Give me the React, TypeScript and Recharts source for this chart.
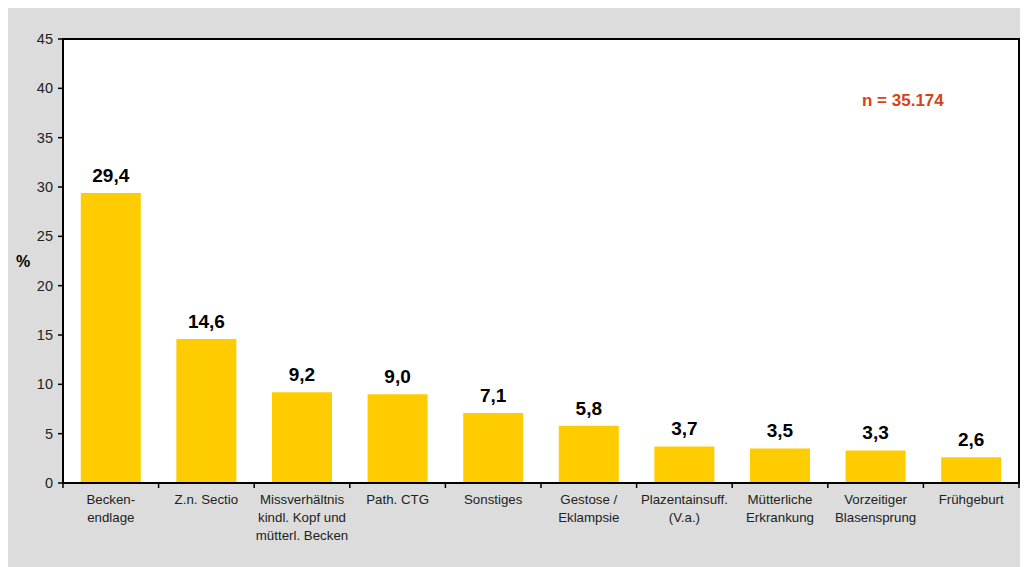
import React from 'react';
import { BarChart, Bar, XAxis, YAxis, CartesianGrid, LabelList, ReferenceArea } from 'recharts';

const CATEGORY_LINES: string[][] = [
  ['Becken-', 'endlage'],
  ['Z.n. Sectio'],
  ['Missverhältnis', 'kindl. Kopf und', 'mütterl. Becken'],
  ['Path. CTG'],
  ['Sonstiges'],
  ['Gestose /', 'Eklampsie'],
  ['Plazentainsuff.', '(V.a.)'],
  ['Mütterliche', 'Erkrankung'],
  ['Vorzeitiger', 'Blasensprung'],
  ['Frühgeburt'],
];
const VALUES: number[] = [29.4, 14.6, 9.2, 9.0, 7.1, 5.8, 3.7, 3.5, 3.3, 2.6];
const Y_TICKS: number[] = [0, 5, 10, 15, 20, 25, 30, 35, 40, 45];
const N_LABEL = 'n = 35.174';

const data = CATEGORY_LINES.map((lines, i) => ({ name: lines.join(' '), value: VALUES[i] }));

const W = 1020;
const H = 559;
const MARGIN = { top: 31, right: 9, left: 0, bottom: 0 };
const Y_AXIS_W = 55;
const X_AXIS_H = 84;
const PLOT_W = W - MARGIN.left - MARGIN.right - Y_AXIS_W;
const BAND = PLOT_W / data.length;
const FONT = '"Liberation Sans", Arial, sans-serif';

function CategoryTick(props: any) {
  const { x, y, index } = props;
  const lines = CATEGORY_LINES[index] || [];
  return (
    <g>
      <line x1={x - BAND / 2} x2={x - BAND / 2} y1={y} y2={y + 5} stroke="#000" strokeWidth={1.5} />
      {index === data.length - 1 && (
        <line x1={x + BAND / 2} x2={x + BAND / 2} y1={y} y2={y + 5} stroke="#000" strokeWidth={1.5} />
      )}
      {lines.map((l, i) => (
        <text key={i} x={x} y={y + 21 + i * 18} textAnchor="middle" fontSize={13.3} fill="#222" fontFamily={FONT}>
          {l}
        </text>
      ))}
    </g>
  );
}

const fmt = (v: any) => Number(v).toFixed(1).replace('.', ',');

export default function App() {
  return (
    <div style={{ position: 'relative', width: W, height: H, background: '#DCDCDC', fontFamily: FONT }}>
      <BarChart width={W} height={H} data={data} margin={MARGIN} barCategoryGap="18.6%">
        <CartesianGrid fill="#FFFFFF" horizontal={false} vertical={false} />
        <XAxis
          dataKey="name"
          height={X_AXIS_H}
          interval={0}
          tickSize={0}
          tickMargin={0}
          tickLine={false}
          axisLine={{ stroke: '#000', strokeWidth: 2 }}
          tick={<CategoryTick />}
        />
        <YAxis
          type="number"
          domain={[0, 45]}
          ticks={Y_TICKS}
          width={Y_AXIS_W}
          tickSize={5}
          tickMargin={5}
          interval={0}
          axisLine={{ stroke: '#000', strokeWidth: 2 }}
          tickLine={{ stroke: '#000', strokeWidth: 1.5 }}
          tick={{ fontSize: 14.5, fill: '#222', fontFamily: FONT }}
          label={{ value: '%', position: 'insideLeft', offset: 8, style: { fontSize: 16, fontWeight: 'bold', fill: '#000', fontFamily: FONT } }}
        />
        <ReferenceArea y1={0} y2={45} fill="none" fillOpacity={0} stroke="#000" strokeWidth={2} ifOverflow="extendDomain" />
        <Bar dataKey="value" fill="#FFCC00" isAnimationActive={false}>
          <LabelList
            dataKey="value"
            position="top"
            offset={11}
            formatter={fmt}
            style={{ fontSize: 19, fontWeight: 'bold', fill: '#000', fontFamily: FONT }}
          />
        </Bar>
      </BarChart>
      <div
        style={{
          position: 'absolute',
          left: 854,
          top: 83,
          fontSize: 17,
          fontWeight: 'bold',
          color: '#D4431A',
          fontFamily: FONT,
          whiteSpace: 'nowrap',
        }}
      >
        {N_LABEL}
      </div>
    </div>
  );
}
